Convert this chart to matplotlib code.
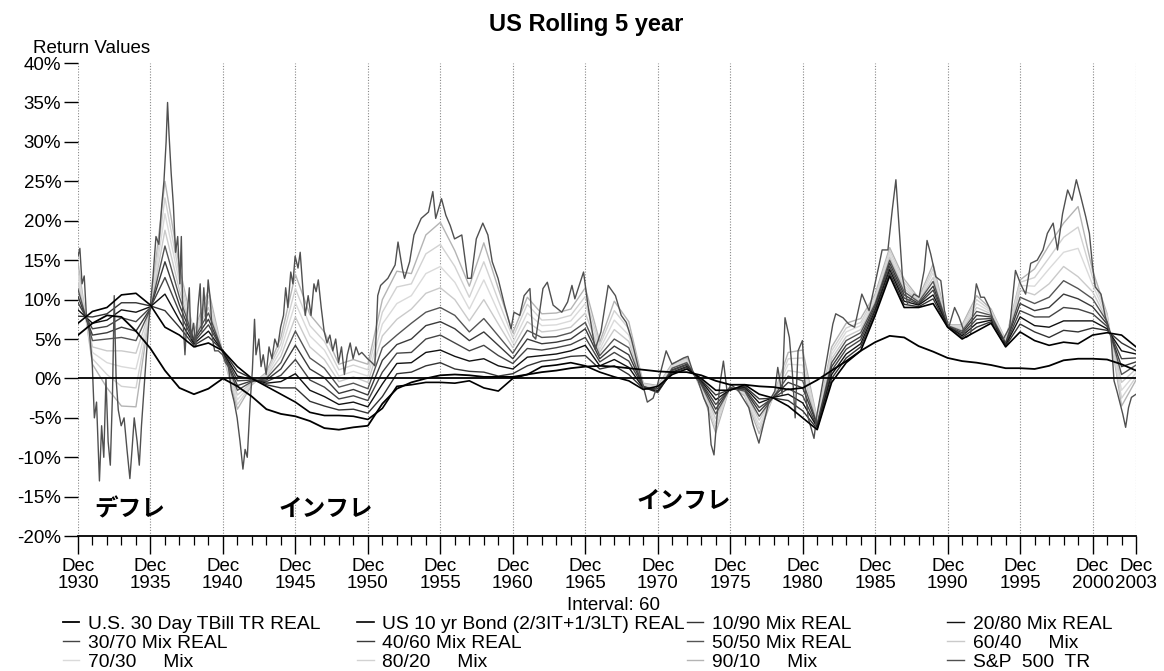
import matplotlib
matplotlib.use("Agg")
import matplotlib.pyplot as plt
from matplotlib.ticker import FixedLocator, FuncFormatter

plt.rcParams['font.family'] = ['Liberation Sans', 'DejaVu Sans']

# Rolling 5 year real returns (%), one value per December
years = list(range(1930, 2004))

tbill = [5.5, 7.0, 8.0, 7.8, 6.0, 3.8, 1.0, -1.2, -2.0, -1.3,
         0.0, -1.0, -2.3, -3.9, -4.5, -4.8, -5.4, -6.3, -6.5, -6.2,
         -6.0, -3.2, -1.3, -0.5, 0.0, 0.4, 0.5, 0.4, 0.2, 0.2,
         0.2, 0.5, 0.8, 1.0, 1.3, 1.5, 1.6, 1.5, 1.3, 1.1,
         0.9, 0.8, 0.8, 0.4, -0.3, -0.8, -0.8, -1.0, -1.1, -1.4,
         -1.2, -0.2, 1.0, 2.2, 3.5, 4.6, 5.4, 5.2, 4.1, 3.4,
         2.6, 2.2, 2.0, 1.7, 1.3, 1.3, 1.2, 1.6, 2.3, 2.5,
         2.5, 2.4, 1.8, 1.0]

bond = [7.0, 8.5, 9.0, 10.6, 10.8, 9.3, 6.5, 5.5, 4.0, 4.5,
        3.5, 1.5, 0.0, -1.0, -2.0, -3.0, -4.3, -4.7, -4.7, -4.8,
        -5.2, -3.8, -1.0, -0.8, -0.5, -0.5, -0.6, -0.3, -1.2, -1.6,
        0.0, 0.5, 1.5, 1.7, 2.0, 1.6, 0.8, 0.2, -0.3, -1.4,
        -1.0, 0.5, 1.2, 0.0, -1.5, -1.5, -0.8, -2.0, -2.5, -3.5,
        -5.0, -6.5, -0.5, 2.0, 3.5, 8.0, 13.0, 9.0, 9.0, 9.5,
        6.5, 5.0, 6.0, 7.0, 4.0, 5.9, 4.8, 4.2, 4.6, 4.4,
        5.5, 5.8, 5.5, 4.0]

mix_10_90 = [7.9, 7.8, 8.2, 9.6, 9.6, 9.2, 8.6, 6.5, 4.2, 5.3,
             3.5, 0.9, 0.0, -0.8, -1.2, -1.2, -2.9, -3.5, -4.0, -3.9,
             -4.4, -2.3, 0.6, 0.8, 1.6, 2.0, 1.2, 0.9, 0.8, 0.3,
             0.6, 1.6, 2.2, 2.4, 2.8, 2.9, 1.2, 1.6, 0.5, -1.3,
             -1.3, 0.7, 1.4, -0.2, -2.1, -1.4, -1.0, -2.6, -2.5, -2.8,
             -4.1, -6.4, 0.0, 2.6, 4.0, 8.3, 13.4, 9.4, 9.1, 10.1,
             6.5, 5.2, 6.5, 7.2, 4.1, 6.9, 5.9, 5.2, 6.1, 5.9,
             6.4, 6.1, 4.5, 3.5]

mix_20_80 = [8.7, 7.0, 7.4, 8.7, 8.4, 9.1, 10.7, 7.4, 4.4, 6.0,
             3.4, 0.3, -0.1, -0.6, -0.4, 0.6, -1.5, -2.3, -3.3, -3.0,
             -3.6, -0.7, 1.9, 2.0, 3.3, 3.6, 2.8, 2.2, 2.5, 1.6,
             1.2, 2.7, 2.9, 3.1, 3.5, 4.2, 1.6, 2.4, 1.4, -1.2,
             -1.6, 0.8, 1.5, -0.3, -2.7, -1.4, -1.1, -3.1, -2.4, -2.0,
             -3.1, -6.2, 0.5, 3.1, 4.4, 8.6, 13.8, 9.8, 9.3, 10.6,
             6.6, 5.4, 7.0, 7.4, 4.2, 7.8, 6.7, 6.5, 7.3, 7.3,
             7.3, 6.3, 3.5, 3.1]

mix_30_70 = [9.6, 6.3, 6.6, 7.7, 7.2, 9.0, 12.8, 8.4, 4.6, 6.8,
             3.4, -0.3, -0.2, -0.4, 0.4, 2.4, -0.2, -1.1, -2.6, -2.2,
             -2.8, 0.8, 3.2, 3.3, 5.0, 5.5, 4.5, 3.5, 4.2, 2.9,
             1.9, 3.8, 3.6, 3.9, 4.3, 5.2, 2.1, 3.3, 2.2, -1.1,
             -1.8, 1.0, 1.7, -0.5, -3.3, -1.3, -1.3, -3.7, -2.4, -1.3,
             -2.2, -6.1, 1.0, 3.7, 4.9, 8.9, 14.2, 10.2, 9.4, 11.2,
             6.6, 5.6, 7.5, 7.6, 4.3, 8.6, 7.8, 7.8, 9.0, 8.8,
             8.2, 6.6, 2.5, 2.6]

mix_40_60 = [10.4, 5.5, 5.8, 6.5, 6.0, 8.9, 14.8, 9.3, 4.8, 7.5,
             3.3, -0.9, -0.3, -0.2, 1.2, 4.2, 1.2, 0.1, -1.9, -1.4,
             -2.1, 2.3, 4.3, 5.0, 6.7, 7.2, 6.3, 4.8, 5.9, 4.2,
             2.5, 5.0, 4.4, 4.6, 5.0, 6.3, 2.5, 4.1, 3.0, -1.0,
             -1.7, 1.1, 1.8, -0.6, -3.9, -1.2, -1.4, -4.2, -2.3, -0.5,
             -1.2, -5.9, 1.5, 4.2, 5.3, 9.2, 14.6, 10.6, 9.5, 11.7,
             6.6, 5.8, 8.0, 7.8, 4.4, 9.5, 8.6, 9.0, 10.7, 10.1,
             9.1, 6.9, 1.5, 2.1]

mix_50_50 = [11.3, 4.8, 5.0, 5.2, 4.8, 8.8, 16.8, 10.3, 5.0, 8.3,
             3.3, -1.5, -0.4, 0.0, 2.0, 6.0, 2.6, 1.3, -1.1, -0.6,
             -1.3, 3.9, 5.5, 7.0, 8.4, 9.0, 8.0, 5.9, 7.6, 5.4,
             3.2, 6.1, 5.2, 5.3, 5.8, 7.1, 2.9, 5.0, 3.9, -1.0,
             -1.6, 1.3, 2.0, -0.8, -4.5, -1.2, -1.6, -4.8, -2.3, 0.3,
             -0.3, -5.8, 2.0, 4.8, 5.8, 9.5, 15.0, 11.0, 9.7, 12.3,
             6.7, 6.0, 8.5, 8.0, 4.5, 10.3, 9.5, 10.3, 12.4, 11.4,
             10.1, 7.2, 0.5, 1.7]

mix_60_40 = [12.1, 4.0, 3.5, 3.5, 3.2, 8.8, 18.8, 11.2, 5.2, 9.0,
             3.2, -2.1, -0.5, 0.2, 2.8, 7.8, 4.0, 2.4, -0.4, 0.2,
             -0.5, 5.4, 7.5, 8.8, 10.8, 11.5, 10.0, 7.3, 10.0, 6.9,
             3.9, 7.2, 5.9, 6.1, 6.5, 8.3, 3.3, 6.2, 4.7, -0.9,
             -1.4, 1.4, 2.1, -0.9, -5.1, -1.1, -1.7, -5.3, -2.2, 1.0,
             0.7, -5.6, 2.5, 5.3, 6.2, 9.8, 15.4, 11.4, 9.8, 12.8,
             6.7, 6.2, 9.0, 8.2, 4.6, 11.2, 10.6, 12.0, 14.2, 12.9,
             11.0, 7.4, -0.5, 1.2]

mix_70_30 = [13.0, 3.3, 2.0, 1.5, 1.2, 8.8, 20.9, 12.2, 5.4, 9.8,
             3.2, -2.7, -0.6, 0.4, 3.6, 9.6, 5.4, 3.6, 0.3, 0.9,
             0.3, 6.9, 9.5, 10.5, 13.3, 14.2, 12.2, 8.8, 12.5, 8.4,
             4.5, 8.3, 6.7, 6.8, 7.3, 9.5, 3.7, 7.4, 5.5, -0.8,
             -1.2, 1.6, 2.3, -1.1, -5.7, -1.0, -1.9, -5.9, -2.2, 1.8,
             1.7, -5.5, 3.0, 5.9, 6.7, 10.1, 15.8, 11.8, 9.9, 13.4,
             6.7, 6.4, 9.5, 8.4, 4.7, 11.8, 11.7, 13.9, 16.0, 16.5,
             11.9, 7.7, -1.5, 0.7]

mix_80_20 = [13.8, 2.5, 0.5, -1.0, -1.2, 8.9, 22.9, 13.1, 5.6, 10.5,
             3.1, -3.3, -0.7, 0.6, 4.4, 11.4, 6.7, 4.7, 1.1, 1.7,
             1.1, 8.4, 11.6, 12.0, 15.8, 17.0, 14.2, 10.3, 14.8, 9.9,
             5.2, 9.4, 7.4, 7.5, 8.0, 10.4, 4.2, 8.6, 6.3, -0.7,
             -1.0, 1.7, 2.4, -1.2, -6.3, -0.9, -2.0, -6.4, -2.1, 2.5,
             2.6, -5.3, 3.5, 6.4, 7.1, 10.4, 16.2, 12.2, 10.0, 13.9,
             6.7, 6.6, 10.0, 8.6, 4.8, 12.2, 12.8, 15.3, 17.9, 19.2,
             12.8, 8.0, -2.5, 0.2]

mix_90_10 = [14.7, 1.8, -1.2, -3.5, -3.6, 9.0, 25.0, 14.1, 5.8, 11.3,
             3.1, -3.9, -0.8, 0.8, 5.2, 13.2, 8.1, 5.9, 1.8, 2.4,
             1.8, 10.0, 13.6, 13.3, 18.2, 19.8, 16.2, 11.7, 17.2, 11.4,
             5.8, 10.3, 8.2, 8.3, 8.8, 11.5, 4.6, 9.8, 7.2, -0.6,
             -0.9, 1.9, 2.6, -1.4, -6.9, -0.9, -2.2, -7.0, -2.1, 3.3,
             3.6, -5.2, 4.0, 7.0, 7.6, 10.7, 16.6, 12.6, 10.2, 14.5,
             6.8, 6.8, 10.5, 8.8, 4.9, 12.5, 13.9, 16.9, 19.7, 21.8,
             13.7, 8.2, -3.5, -0.2]

# S&P 500 is much choppier, so it is kept at finer (decimal year) dates
sp_dates = [1930.92, 1931.05, 1931.2, 1931.35, 1931.5, 1931.7, 1931.9, 1932.05, 1932.2, 1932.4,
            1932.55, 1932.7, 1932.85, 1933.0, 1933.15, 1933.3, 1933.42, 1933.55, 1933.7, 1933.9,
            1934.1, 1934.3, 1934.5, 1934.65, 1934.8, 1935.0, 1935.15, 1935.3, 1935.45, 1935.6,
            1935.8, 1935.95, 1936.1, 1936.3, 1936.5, 1936.7, 1936.85, 1937.0, 1937.1, 1937.2,
            1937.35, 1937.5, 1937.65, 1937.8, 1937.95, 1938.05, 1938.15, 1938.3, 1938.45, 1938.6,
            1938.7, 1938.9, 1939.05, 1939.2, 1939.35, 1939.45, 1939.6, 1939.75, 1939.9, 1940.05,
            1940.2, 1940.35, 1940.6, 1940.9, 1941.1, 1941.3, 1941.5, 1941.7, 1941.9, 1942.1,
            1942.3, 1942.45, 1942.6, 1942.8, 1942.95, 1943.1, 1943.2, 1943.4, 1943.55, 1943.7,
            1943.9, 1944.1, 1944.3, 1944.5, 1944.7, 1944.9, 1945.1, 1945.25, 1945.4, 1945.6,
            1945.75, 1945.9, 1946.1, 1946.25, 1946.45, 1946.6, 1946.8, 1947.0, 1947.2, 1947.35,
            1947.5, 1947.7, 1947.9, 1948.1, 1948.3, 1948.5, 1948.7, 1948.9, 1949.1, 1949.3,
            1949.5, 1949.7, 1949.9, 1950.1, 1950.3, 1950.5, 1950.9, 1951.2, 1951.4, 1951.6,
            1951.8, 1952.3, 1952.8, 1953.0, 1953.3, 1953.45, 1953.8, 1954.1, 1954.6, 1955.1,
            1955.4, 1955.6, 1956.0, 1956.3, 1956.6, 1956.9, 1957.4, 1957.8, 1958.05, 1958.4,
            1958.85, 1959.2, 1959.5, 1959.9, 1960.35, 1960.8, 1961.0, 1961.4, 1961.7, 1962.1,
            1962.3, 1962.5, 1963.0, 1963.3, 1963.7, 1964.3, 1964.7, 1965.0, 1965.2, 1965.8,
            1966.1, 1966.6, 1967.0, 1967.5, 1968.0, 1968.4, 1968.75, 1969.1, 1969.55, 1969.9,
            1970.2, 1970.6, 1970.9, 1971.2, 1971.5, 1971.9, 1972.3, 1972.7, 1973.0, 1973.4,
            1973.7, 1974.1, 1974.4, 1974.6, 1974.8, 1975.0, 1975.2, 1975.45, 1975.7, 1976.0,
            1976.5, 1976.8, 1977.2, 1977.5, 1977.9, 1978.2, 1978.6, 1979.0, 1979.2, 1979.5,
            1979.7, 1980.0, 1980.2, 1980.4, 1980.6, 1980.9, 1981.1, 1981.3, 1981.7, 1981.9,
            1982.2, 1982.6, 1983.0, 1983.2, 1983.7, 1984.1, 1984.5, 1985.0, 1985.5, 1985.8,
            1986.2, 1986.4, 1986.8, 1987.1, 1987.35, 1987.6, 1987.8, 1988.15, 1988.6, 1988.95,
            1989.3, 1989.5, 1989.75, 1990.1, 1990.45, 1990.7, 1991.0, 1991.4, 1991.7, 1992.2,
            1992.5, 1992.9, 1993.2, 1993.45, 1993.8, 1994.25, 1994.7, 1995.2, 1995.6, 1995.95,
            1996.3, 1996.65, 1997.1, 1997.5, 1997.8, 1998.2, 1998.5, 1998.85, 1999.2, 1999.5,
            1999.8, 2000.1, 2000.45, 2000.7, 2000.9, 2001.1, 2001.5, 2001.8, 2002.2, 2002.4,
            2002.6, 2003.0, 2003.2, 2003.4, 2003.6, 2003.92]

sp500 = [15.5, 16.5, 12.0, 13.0, 8.0, 6.0, 2.0, -5.0, -3.0, -13.0,
         -6.0, -10.0, 0.0, -8.0, -11.0, -2.0, 10.5, 0.0, -4.0, -6.0,
         -5.0, -9.0, -12.7, -9.0, -5.0, -8.0, -11.0, -6.0, -2.0, 2.0,
         7.0, 10.0, 13.0, 18.0, 17.0, 22.0, 25.0, 30.0, 35.0, 31.0,
         26.0, 22.0, 16.0, 18.0, 12.0, 18.0, 8.0, 3.0, 8.0, 11.5,
         5.0, 7.0, 4.0, 9.0, 12.0, 6.0, 11.5, 7.0, 12.5, 10.0,
         5.0, 3.5, 3.5, 3.0, 2.0, 1.5, -1.5, -3.0, -5.0, -8.0,
         -11.5, -9.0, -10.0, -3.0, 1.0, 7.5, 3.0, 5.0, 1.5, 3.0,
         0.5, 4.0, 2.5, 5.0, 4.0, 6.5, 8.0, 11.5, 9.0, 13.5,
         12.0, 15.5, 14.0, 16.0, 11.0, 8.0, 10.5, 8.0, 12.0, 11.0,
         12.5, 9.0, 6.0, 4.5, 5.5, 3.5, 5.0, 2.0, 4.0, 0.5,
         3.0, 4.5, 2.5, 4.0, 3.0, 3.3, 2.5, 2.0, 1.6, 10.5,
         11.8, 12.7, 14.4, 17.3, 13.9, 12.7, 14.8, 18.2, 20.3, 21.1,
         23.7, 20.3, 22.8, 20.7, 19.4, 17.7, 18.2, 12.7, 12.7, 17.7,
         19.7, 18.2, 14.8, 12.7, 9.3, 6.3, 8.4, 8.0, 10.5, 11.4,
         5.4, 5.0, 11.4, 12.2, 9.3, 8.4, 9.7, 11.8, 10.1, 13.5,
         9.3, 3.7, 5.9, 11.8, 10.5, 8.0, 7.1, 5.0, 1.6, -0.9,
         -3.0, -2.5, -0.8, 1.4, 3.5, 1.8, 2.2, 2.6, 2.8, 0.5,
         -0.3, -2.5, -3.7, -8.4, -9.7, -5.0, -0.8, 2.2, -1.6, -0.8,
         -1.6, -2.5, -3.7, -5.9, -8.2, -5.9, -2.9, -1.6, 1.4, -2.0,
         7.7, 5.2, 0.9, -5.0, 3.5, 4.8, -1.6, -5.0, -7.6, -4.6,
         -1.6, 2.6, 6.9, 8.2, 7.7, 6.9, 6.5, 10.7, 8.6, 11.1,
         14.5, 16.3, 16.3, 21.4, 25.2, 18.4, 12.9, 9.5, 10.7, 10.3,
         13.7, 17.5, 15.8, 12.9, 12.4, 8.6, 6.5, 9.0, 7.8, 5.2,
         5.6, 12.0, 10.3, 10.3, 9.0, 6.1, 4.8, 6.5, 13.7, 12.0,
         10.7, 14.6, 15.0, 16.3, 18.4, 19.7, 16.3, 20.9, 23.9, 22.6,
         25.2, 23.1, 20.5, 18.4, 14.6, 11.6, 10.7, 7.8, 5.2, -0.3,
         -1.6, -4.5, -6.2, -3.7, -2.4, -2.0]

# December of each year on a decimal-year axis
dec_x = [y + 0.92 for y in years]
x_start, x_end = 1930.92, 2003.92

fig = plt.figure(figsize=(11.64, 6.71), dpi=100)
ax = fig.add_axes([0.067, 0.201, 0.909, 0.705])

# light greys first so the dark lines sit on top
series = [
    ("90/10     Mix", mix_90_10, "#b4b4b4", 1.0),
    ("80/20     Mix", mix_80_20, "#d2d2d2", 1.0),
    ("70/30     Mix", mix_70_30, "#dadada", 1.0),
    ("60/40     Mix", mix_60_40, "#cacaca", 1.0),
    ("50/50 Mix REAL", mix_50_50, "#555555", 1.0),
    ("40/60 Mix REAL", mix_40_60, "#3a3a3a", 1.0),
    ("30/70 Mix REAL", mix_30_70, "#444444", 1.0),
    ("20/80 Mix REAL", mix_20_80, "#111111", 1.0),
    ("10/90 Mix REAL", mix_10_90, "#333333", 1.0),
]
lines = {}
for label, vals, col, lw in series:
    lines[label], = ax.plot(dec_x, vals, color=col, lw=lw, label=label)

lines["S&P  500  TR"], = ax.plot(sp_dates, sp500, color="#505050", lw=1.0)
lines["US 10 yr Bond (2/3IT+1/3LT) REAL"], = ax.plot(dec_x, bond, color="black", lw=1.2)
lines["U.S. 30 Day TBill TR REAL"], = ax.plot(dec_x, tbill, color="black", lw=1.3)

ax.axhline(0, color="black", lw=1.3, zorder=5)

ax.set_xlim(x_start, x_end)
ax.set_ylim(-20, 40)

# axes frame: only the bottom line is solid
for side in ["top", "right", "left"]:
    ax.spines[side].set_visible(False)
ax.spines["bottom"].set_linewidth(1.3)

major_x = [1930.92 + 5 * i for i in range(15)] + [2003.92]
tick_names = ["Dec\n%d" % int(round(v - 0.92)) for v in major_x]
ax.xaxis.set_major_locator(FixedLocator(major_x))
ax.set_xticklabels(tick_names, fontsize=13.5, linespacing=0.95)
ax.xaxis.set_minor_locator(FixedLocator(dec_x))
ax.tick_params(axis="x", which="major", length=13, width=1.0, direction="out", pad=3)
ax.tick_params(axis="x", which="minor", length=6.5, width=0.9, direction="out")
ax.grid(axis="x", which="major", color="#888888", linestyle=(0, (1, 1.5)), lw=0.8)

ax.yaxis.set_major_locator(FixedLocator(list(range(-20, 45, 5))))
ax.yaxis.set_major_formatter(FuncFormatter(lambda v, p: "%d%%" % v))
ax.tick_params(axis="y", length=10, width=1.0, direction="out", labelsize=13.5, pad=2)

fig.text(0.504, 0.963, "US Rolling 5 year", ha="center", va="center",
         fontsize=17, fontweight="bold")
fig.text(0.028, 0.927, "Return Values", ha="left", va="center", fontsize=13.5)

# period notes
jp = ["Noto Sans CJK JP", "DejaVu Sans"]
ax.text(1934.5, -16.6, "デフレ", family=jp, fontweight="bold", fontsize=17,
        ha="center", va="center")
ax.text(1948.0, -16.6, "インフレ", family=jp, fontweight="bold", fontsize=17,
        ha="center", va="center")
ax.text(1972.7, -15.6, "インフレ", family=jp, fontweight="bold", fontsize=17,
        ha="center", va="center")

fig.text(0.527, 0.097, "Interval: 60", ha="center", va="center", fontsize=13.5)

# legend laid out in four columns, filled row by row
columns = [
    (0.054, ["U.S. 30 Day TBill TR REAL", "30/70 Mix REAL", "70/30     Mix"]),
    (0.307, ["US 10 yr Bond (2/3IT+1/3LT) REAL", "40/60 Mix REAL", "80/20     Mix"]),
    (0.590, ["10/90 Mix REAL", "50/50 Mix REAL", "90/10     Mix"]),
    (0.814, ["20/80 Mix REAL", "60/40     Mix", "S&P  500  TR"]),
]
for x0, names in columns:
    fig.legend([lines[n] for n in names], names, loc="upper left",
               bbox_to_anchor=(x0, 0.083), frameon=False,
               fontsize=13.9, handlelength=0.85, handletextpad=0.45,
               labelspacing=0.08, borderpad=0.0, borderaxespad=0.0)

fig.savefig("out.png", dpi=100)
